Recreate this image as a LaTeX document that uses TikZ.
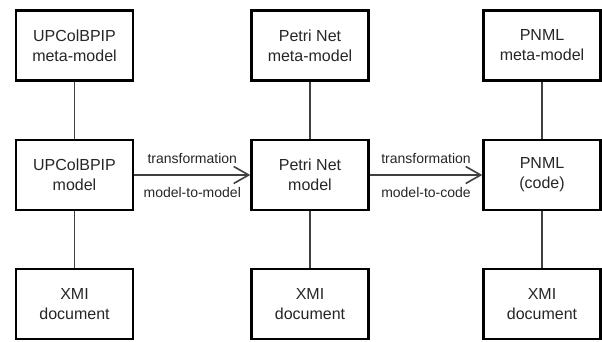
\documentclass[tikz,border=0pt]{standalone}
\usepackage{fontspec}
\setmainfont{Liberation Sans}
\usetikzlibrary{arrows.meta}

\begin{document}
\begin{tikzpicture}[x=1pt, y=1pt,
        box/.style={draw=black, line width=2.4pt, minimum width=117pt, minimum height=70pt,
            align=center, font=\fontsize{16}{20}\selectfont, text=black!85},
        link/.style={draw=black!75, line width=1.6pt},
        lbl/.style={font=\fontsize{14}{16}\selectfont, text=black!85}]
            \useasboundingbox (0,0) rectangle (602,341);

            \node[box] (umeta) at (74.5,295.5) {UPColBPIP\\meta-model};
            \node[box] (pmeta) at (310,295.5) {Petri Net\\meta-model};
            \node[box] (nmeta) at (542,295.5) {PNML\\meta-model};

            \node[box] (umodel) at (74.5,166) {UPColBPIP\\model};
            \node[box] (pmodel) at (310,166) {Petri Net\\model};
            \node[box] (ncode) at (542,166) {PNML\\(code)};

            \node[box] (uxmi) at (74.5,37) {XMI\\document};
            \node[box] (pxmi) at (310,37) {XMI\\document};
            \node[box] (nxmi) at (542,37) {XMI\\document};

            \draw[link] (umeta) -- (umodel) -- (uxmi);
            \draw[link] (pmeta) -- (pmodel) -- (pxmi);
            \draw[link] (nmeta) -- (ncode) -- (nxmi);

            % transformations
            \draw[link, -{Straight Barb[length=15pt, width=17pt]}] (umodel) -- (pmodel)
                node[lbl, midway, yshift=17pt] {transformation}
                node[lbl, midway, yshift=-17pt] {model-to-model};
            \draw[link, -{Straight Barb[length=15pt, width=17pt]}] (pmodel) -- (ncode)
                node[lbl, midway, yshift=17pt] {transformation}
                node[lbl, midway, yshift=-17pt] {model-to-code};
        \end{tikzpicture}
\end{document}
